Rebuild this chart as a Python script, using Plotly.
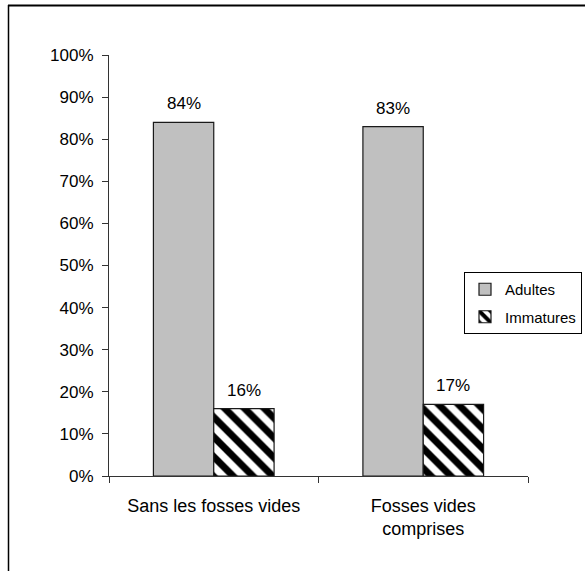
import plotly.graph_objects as go

categories = ["Sans les fosses vides", "Fosses vides<br>comprises"]
series_names = ["Adultes", "Immatures"]
adultes = [0.84, 0.83]
immatures = [0.16, 0.17]
labels_adultes = ["84%", "83%"]
labels_immatures = ["16%", "17%"]
y_ticks = [0, 0.1, 0.2, 0.3, 0.4, 0.5, 0.6, 0.7, 0.8, 0.9, 1.0]

FONT = "Liberation Sans, Arial, sans-serif"
W, H = 585, 571
ML, MR, MT, MB = 109, 57, 55, 95
PW, PH = W - ML - MR, H - MT - MB

fig = go.Figure()
fig.add_trace(go.Bar(
    name=series_names[0], x=categories, y=adultes,
    marker=dict(color="#C0C0C0", line=dict(color="#1a1a1a", width=1.2)),
    legendgroup="a",
))
fig.add_trace(go.Bar(
    name=series_names[1], x=categories, y=immatures,
    marker=dict(color="white", line=dict(color="#1a1a1a", width=1.2),
                pattern=dict(shape="\\", fgcolor="black", bgcolor="white",
                             fgopacity=1, size=14, solidity=0.5)),
    legendgroup="b",
))

bargap = 0.424
half = (1 - bargap) / 4
annotations = []
for i in range(len(categories)):
    for vals, labs, off in ((adultes, labels_adultes, -half), (immatures, labels_immatures, half)):
        annotations.append(dict(
            x=i + off, y=vals[i], xref="x", yref="y", text=labs[i],
            showarrow=False, yanchor="bottom", yshift=7,
            font=dict(family=FONT, size=17, color="black"),
        ))

def px(xp):
    return (xp - ML) / PW

def py(yp):
    return (H - MB - yp) / PH

shapes = [
    dict(type="line", xref="paper", yref="paper", x0=px(8.5), x1=px(8.5), y0=py(5), y1=py(H + 5),
         line=dict(color="black", width=1.5)),
    dict(type="line", xref="paper", yref="paper", x0=px(8), x1=px(W + 5), y0=py(5.5), y1=py(5.5),
         line=dict(color="black", width=2)),
]

fig.update_layout(
    width=W, height=H,
    margin=dict(l=ML, r=MR, t=MT, b=MB, pad=0, autoexpand=False),
    paper_bgcolor="white", plot_bgcolor="white",
    barmode="group", bargap=bargap, bargroupgap=0,
    font=dict(family=FONT, size=17, color="black"),
    xaxis=dict(type="category", tickson="boundaries", ticks="outside", ticklen=6,
               tickcolor="#333333", showline=True, linecolor="#333333", linewidth=1,
               showgrid=False, zeroline=False, tickfont=dict(size=18),
               ticklabelstandoff=13, range=[-0.5, 1.5], automargin=False),
    yaxis=dict(range=[0, 1], tickvals=y_ticks, tickformat=".0%", ticks="outside",
               ticklen=6, tickcolor="#333333", showline=True, linecolor="#333333",
               linewidth=1, showgrid=False, zeroline=False, tickfont=dict(size=17),
               ticklabelstandoff=5, automargin=False),
    legend=dict(x=px(582), xanchor="right", y=py(272), yanchor="top",
                bgcolor="white", bordercolor="black", borderwidth=1,
                font=dict(size=15), traceorder="grouped", tracegroupgap=5),
    annotations=annotations,
    shapes=shapes,
    showlegend=True,
)

fig.write_html(
    "out.html",
    config={"displayModeBar": False},
    post_script=("document.body.style.margin='0px';"
                 "document.body.style.overflow='hidden';"
                 "document.documentElement.style.overflow='hidden';"),
)
